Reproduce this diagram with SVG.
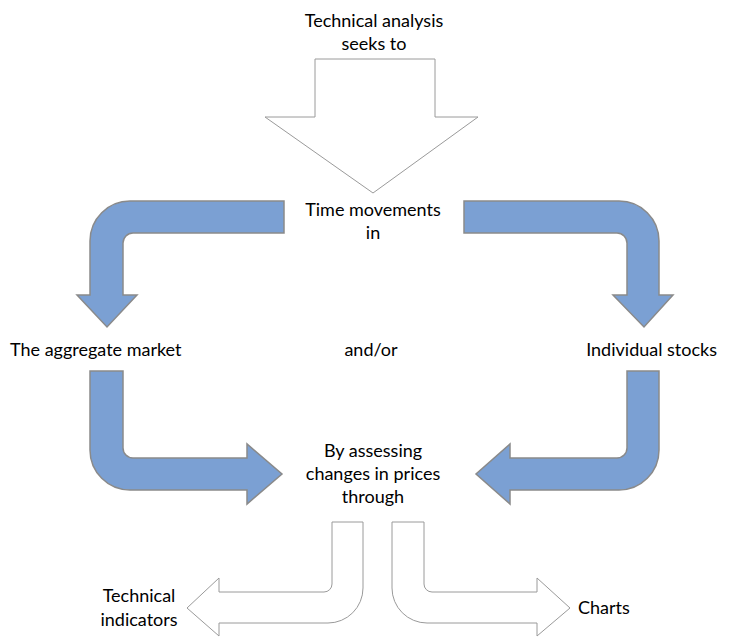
<svg xmlns="http://www.w3.org/2000/svg" width="729" height="637" viewBox="0 0 729 637">
<style>
text{font-family:Lato,"Open Sans","Liberation Sans",sans-serif;font-size:18px;fill:#000}
.blue{fill:#7BA0D3;stroke:#8A8A8A;stroke-width:1.5}
.white{fill:#fff;stroke:#9A9A9A;stroke-width:1}
</style>
<rect width="729" height="637" fill="#fff"/>
<g id="connectors">
<path class="white" d="M315 59 L435 59 L435 117 L478 117 L373 193 L265 117 L315 117 Z"/>
<path class="blue" d="M284 201 L130 201 A40 40 0 0 0 90 241 L90 295 L77 295 L107 327 L137 295 L123 295 L123 243 A10 10 0 0 1 133 233 L284 233 Z"/>
<path class="blue" d="M464 201 L619 201 A40 40 0 0 1 659 241 L659 295 L673 295 L644 327 L613 295 L627 295 L627 243 A10 10 0 0 0 617 233 L464 233 Z"/>
<path class="blue" d="M90 371 L123 371 L123 448 A10 10 0 0 0 133 458 L247 458 L247 444 L282 474 L247 504 L247 490 L130 490 A40 40 0 0 1 90 450 Z"/>
<path class="blue" d="M659 371 L627 371 L627 448 A10 10 0 0 1 617 458 L510 458 L510 444 L476 474 L510 504 L510 490 L619 490 A40 40 0 0 0 659 450 Z"/>
<path class="white" d="M332 522 L363 522 L363 588 A35 35 0 0 1 328 623 L219 623 L219 636 L187 608 L219 578 L219 592 L324 592 A8 8 0 0 0 332 584 Z"/>
<path class="white" d="M424 522 L392 522 L392 588 A35 35 0 0 0 427 623 L537 623 L537 636 L570 608 L537 578 L537 592 L432 592 A8 8 0 0 1 424 584 Z"/>
</g>
<g id="n-top" text-anchor="middle"><text x="374" y="27">Technical analysis</text><text x="374" y="50">seeks to</text></g>
<g id="n-time" text-anchor="middle"><text x="373" y="216">Time movements</text><text x="373" y="239">in</text></g>
<g id="n-aggregate"><text x="10" y="356">The aggregate market</text></g>
<g id="n-andor" text-anchor="middle"><text x="371" y="356">and/or</text></g>
<g id="n-individual" text-anchor="end"><text x="717" y="356">Individual stocks</text></g>
<g id="n-assess" text-anchor="middle"><text x="373" y="457">By assessing</text><text x="373" y="480">changes in prices</text><text x="373" y="503">through</text></g>
<g id="n-indicators" text-anchor="middle"><text x="139" y="602">Technical</text><text x="139" y="626">indicators</text></g>
<g id="n-charts"><text x="578" y="614">Charts</text></g>
</svg>
